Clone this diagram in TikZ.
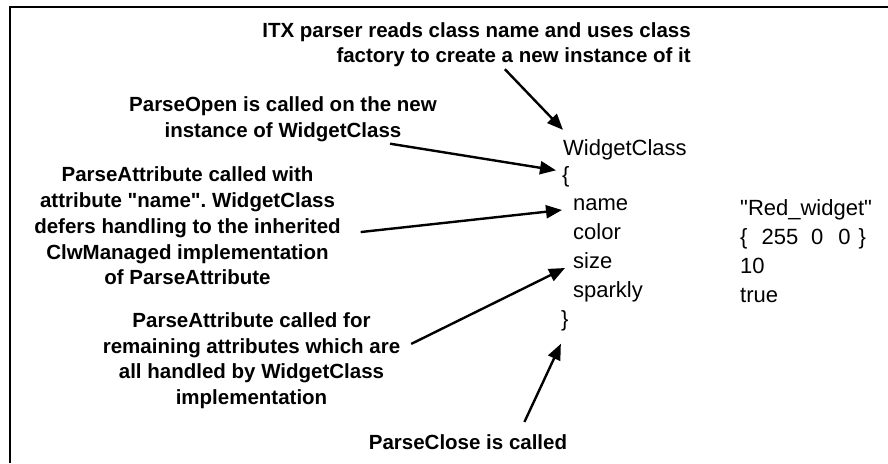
\documentclass[tikz,border=0pt]{standalone}
\usepackage{fontspec}
\setmainfont{Liberation Sans}
\usetikzlibrary{arrows.meta}
\frenchspacing
\newcommand{\lblfont}{\bfseries\fontsize{20.5}{25.8}\selectfont}
\newcommand{\codefont}{\fontsize{22}{28}\selectfont}

\begin{document}
\begin{tikzpicture}[
    x=1pt, y=-1pt,
    lbl/.style={align=center, inner sep=2pt, font=\lblfont},
    code/.style={anchor=base west, inner sep=0pt, font=\codefont},
    arr/.style={-{Triangle[length=16pt, width=13pt]}, line width=2.4pt}
  ]
    \useasboundingbox (0,0) rectangle (888,463);
    \draw[line width=2.5pt] (888,7) -- (10,7) -- (10,463);

    % parsed ITX text
    \node[code] (wc) at (563,155) {WidgetClass};
    \node[code] (ob) at (562,182) {\{};
    \node[code] (name) at (573,210) {name};
    \node[code] (color) at (573,239) {color};
    \node[code] (size) at (573,268) {size};
    \node[code] (sparkly) at (573,297) {sparkly};
    \node[code] (cb) at (561,326) {\}};
    \node[code] (vname) at (740,215) {\textquotedbl Red\_widget\textquotedbl};
    \node[code] (vcolor) at (740,244) {\{\hspace{14pt}255\hspace{13pt}0\hspace{15pt}0\hspace{8pt}\}};
    \node[code] (vsize) at (740,273) {10};
    \node[code] (vsparkly) at (740,302) {true};

    % notes
    \node[lbl, align=right, anchor=east] (itx) at (693,44.6) {ITX parser reads class name and uses class\\factory to create a new instance of it};
    \node[lbl] (po) at (283,119) {ParseOpen is called on the new\\instance of WidgetClass};
    \node[lbl, outer xsep=18pt] (pan) at (187.5,226) {ParseAttribute called with\\attribute \textquotedbl name\textquotedbl. WidgetClass\\defers handling to the inherited\\ClwManaged implementation\\of ParseAttribute};
    \node[lbl, outer xsep=9pt] (pr) at (251.5,360.7) {ParseAttribute called for\\remaining attributes which are\\all handled by WidgetClass\\implementation};
    \node[lbl, outer ysep=11pt] (pc) at (468,442.5) {ParseClose is called};

    \draw[arr] (itx.-41) -- ([yshift=9pt]wc.north west);
    \draw[arr] (po.-13) -- ([xshift=-6pt, yshift=6pt]ob.west);
    \draw[arr] (pan.-2) -- ([xshift=-11pt]name.base west);
    \draw[arr] (pr.6) -- ([xshift=-8pt]size.base west);
    \draw[arr] (pc.20) -- ([shift={(-4pt,-13pt)}]cb.south);
\end{tikzpicture}
\end{document}
